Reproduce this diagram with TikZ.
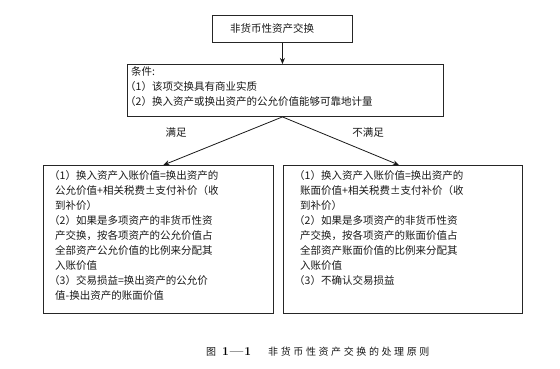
\documentclass[tikz,border=0pt]{standalone}
\usepackage{fontspec}
\newfontfamily\cjk{Noto Sans CJK SC}
\usetikzlibrary{arrows.meta}
\newcommand{\pk}{\kern-6pt}
\newcommand{\cg}{\hspace{2.6pt}}
\tikzset{
  boxstyle/.style={draw=black!85, line width=0.9pt, inner sep=0pt, anchor=north west},
  txt/.style={inner sep=0pt, anchor=north west, align=left, text=black!90,
              font=\cjk\fontsize{10.5}{15}\selectfont},
  lab/.style={inner sep=0pt, text=black!90, font=\cjk\fontsize{10.5}{13}\selectfont},
  conn/.style={draw=black!90, line width=0.8pt, -{Stealth[length=6pt,width=5pt]}}
}
\begin{document}
\begin{tikzpicture}[x=1pt,y=1pt]
\useasboundingbox (0,0) rectangle (560,-368);
% boxes
\node[boxstyle, minimum width=140pt, minimum height=27pt] (top) at (212,-15) {};
\node[boxstyle, minimum width=316pt, minimum height=52pt] (cond) at (127,-64) {};
\node[boxstyle, minimum width=230pt, minimum height=148pt] (lbox) at (43,-165) {};
\node[boxstyle, minimum width=239pt, minimum height=148pt] (rbox) at (283,-165) {};
% texts
\node[txt, anchor=west] (toptxt) at (230,-28.5) {非货币性资产交换};
\node[txt] (condtxt) at (131,-66) {条件:\\
\pk（1）该项交换具有商业实质\\
\pk（2）换入资产或换出资产的公允价值能够可靠地计量};
\node[txt] (ltxt) at (55,-170) {\pk（1）换入资产入账价值=换出资产的\\
公允价值+相关税费±支付补价（收\\
到补价）\\
\pk（2）如果是多项资产的非货币性资\\
产交换，按各项资产的公允价值占\\
全部资产公允价值的比例来分配其\\
入账价值\\
\pk（3）交易损益=换出资产的公允价\\
值-换出资产的账面价值};
\node[txt] (rtxt) at (300,-170) {\pk（1）换入资产入账价值=换出资产的\\
账面价值+相关税费±支付补价（收\\
到补价）\\
\pk（2）如果是多项资产的非货币性资\\
产交换，按各项资产的账面价值占\\
全部资产账面价值的比例来分配其\\
入账价值\\
\pk（3）不确认交易损益};
% connectors
\coordinate (apex) at (top.south |- cond.south);
\draw[conn] (top.south) -- (top.south |- cond.north);
\draw[conn] (apex) -- ([xshift=5pt]lbox.north);
\draw[conn] (apex) -- ([xshift=-4pt]rbox.north);
\node[lab] (yes) at (176,-133) {满足};
\node[lab] (no) at (368,-133) {不满足};
% caption
\node[lab, font=\cjk\fontsize{10}{13}\selectfont] (capfig) at (211,-352) {图};
\node[inner sep=0pt, anchor=west, font=\bfseries\fontsize{12}{13}\selectfont] (capnum) at (222,-352) {1\kern1pt---\kern1pt1};
\node[lab, anchor=west, font=\cjk\fontsize{10}{13}\selectfont] (captxt) at (268,-352) {非\cg 货\cg 币\cg 性\cg 资\cg 产\cg 交\cg 换\cg 的\cg 处\cg 理\cg 原\cg 则};
\end{tikzpicture}
\end{document}
